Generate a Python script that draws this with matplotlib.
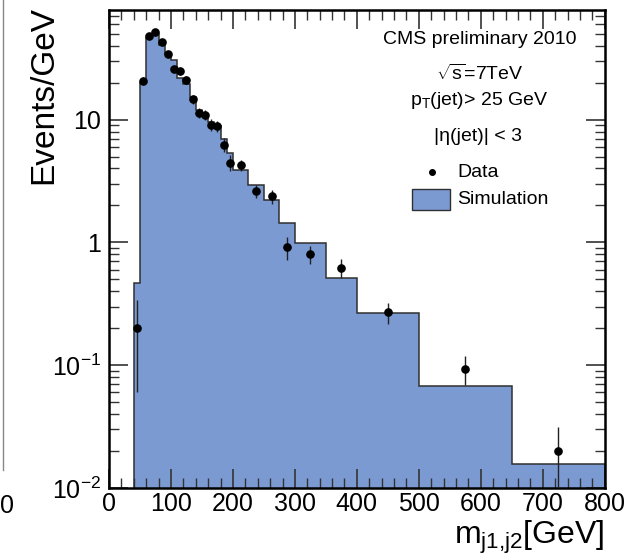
import numpy as np
import matplotlib
matplotlib.use("Agg")
import matplotlib.pyplot as plt
from matplotlib.patches import Rectangle
from matplotlib.ticker import LogLocator, MultipleLocator, NullFormatter

plt.rcParams['font.family'] = ['Liberation Sans', 'DejaVu Sans']
plt.rcParams['mathtext.fontset'] = 'custom'
plt.rcParams['mathtext.rm'] = 'Liberation Sans'
plt.rcParams['mathtext.it'] = 'Liberation Sans:italic'
plt.rcParams['mathtext.bf'] = 'Liberation Sans:bold'

# bin edges (GeV) and simulated events/GeV
edges = [40, 50, 60, 70, 80, 90, 100, 110, 120, 130, 140, 150, 160, 170, 180,
         190, 200, 225, 250, 275, 300, 350, 400, 500, 650, 800]
sim = [0.47, 19.7, 45.8, 49.4, 40.4, 34.1, 30.5, 21.9, 19.5, 15.3, 12.0, 10.6,
       9.6, 8.9, 7.0, 5.3, 3.87, 2.95, 2.2, 1.43, 0.98, 0.515, 0.268, 0.068, 0.0157]

# data points
data_x = [45, 55, 65, 75, 85, 95, 105, 115, 125, 135, 145, 155, 165, 175, 185,
          195, 212.5, 237.5, 262.5, 287.5, 325, 375, 450, 575, 725]
data_y = [0.20, 20.8, 47.9, 51.8, 42.5, 34.4, 25.8, 24.7, 21.0, 14.6, 11.4, 11.0,
          9.1, 8.85, 6.25, 4.45, 4.24, 2.62, 2.38, 0.91, 0.80, 0.62, 0.269, 0.0935, 0.0201]
data_err = [0.14, 1.4, 2.2, 2.3, 2.1, 1.9, 1.6, 1.6, 1.5, 1.2, 1.1, 1.0,
            0.95, 0.95, 0.8, 0.67, 0.41, 0.32, 0.31, 0.19, 0.13, 0.11, 0.052, 0.025, 0.0115]

yticks = [0.01, 0.1, 1, 10]
ylabels = ['$10^{-2}$', '$10^{-1}$', '1', '10']

fig = plt.figure(figsize=(6.32, 5.58), dpi=100)
ax = fig.add_axes([0.1725, 0.1254, 0.7843, 0.8566])

fill_col = '#7b9ad2'
ax.stairs(sim, edges, baseline=1e-4, fill=True, color=fill_col, zorder=1)
ax.stairs(sim, edges, baseline=1e-4, fill=False, color='#303030', lw=1.1, zorder=2)

lo = np.maximum(np.array(data_y) - np.array(data_err), 1e-4)
yerr = [np.array(data_y) - lo, data_err]
ax.errorbar(data_x, data_y, yerr=yerr, fmt='o', color='black', ms=5.2,
            elinewidth=1.0, ecolor='#222222', capsize=0, zorder=3)

ax.set_yscale('log')
ax.set_xlim(0, 800)
ax.set_ylim(0.01, 78)

ax.set_yticks(yticks)
ax.set_yticklabels(ylabels)
ax.yaxis.set_minor_locator(LogLocator(base=10, subs=np.arange(2, 10)))
ax.yaxis.set_minor_formatter(NullFormatter())
ax.xaxis.set_major_locator(MultipleLocator(100))
ax.xaxis.set_minor_locator(MultipleLocator(20))

ax.tick_params(which='both', direction='in', top=True, right=True, labelsize=18,
               color='#333333')
ax.tick_params(which='major', length=14, width=1.2)
ax.tick_params(which='minor', length=7, width=1.0)
ax.tick_params(axis='x', pad=3)
ax.tick_params(axis='y', pad=6)
for s in ax.spines.values():
    s.set_linewidth(1.8)

ax.set_ylabel('Events/GeV', fontsize=24)
ax.yaxis.set_label_coords(-0.132, 1.008)
ax.yaxis.label.set_ha('right')
ax.yaxis.label.set_va('center')

ax.set_xlabel('m$_{\\mathrm{j1{,}j2}}$[GeV]', fontsize=23)
ax.xaxis.set_label_coords(1.0, -0.117)
ax.xaxis.label.set_ha('right')
ax.xaxis.label.set_va('baseline')

# annotations
ax.text(0.747, 0.939, 'CMS preliminary 2010', transform=ax.transAxes,
        ha='center', va='center', fontsize=14)
ax.text(0.747, 0.866, '$\\sqrt{\\mathrm{s}}$=7TeV', transform=ax.transAxes,
        ha='center', va='center', fontsize=14)
ax.text(0.747, 0.81, 'p$_{\\mathrm{T}}$(jet)> 25 GeV', transform=ax.transAxes,
        ha='center', va='center', fontsize=14)
ax.text(0.745, 0.736, '|η(jet)| < 3', transform=ax.transAxes,
        ha='center', va='center', fontsize=14)

# legend
ax.plot([0.652], [0.661], 'o', color='black', ms=4, transform=ax.transAxes,
        clip_on=False)
ax.text(0.702, 0.661, 'Data', transform=ax.transAxes, ha='left', va='center',
        fontsize=14)
ax.add_patch(Rectangle((0.611, 0.582), 0.077, 0.043, transform=ax.transAxes,
                       facecolor=fill_col, edgecolor='#303030', lw=1.0))
ax.text(0.702, 0.603, 'Simulation', transform=ax.transAxes, ha='left',
        va='center', fontsize=14)

# remnant of neighbouring panel at the left edge
fig.add_artist(plt.Line2D([3 / 632, 3 / 632], [1 - 470 / 558, 1.0],
                          color='#888888', lw=1.0))
fig.text(0.0, 1 - 506 / 558, '0', ha='left', va='center', fontsize=18)

fig.savefig('out.png', dpi=100)
